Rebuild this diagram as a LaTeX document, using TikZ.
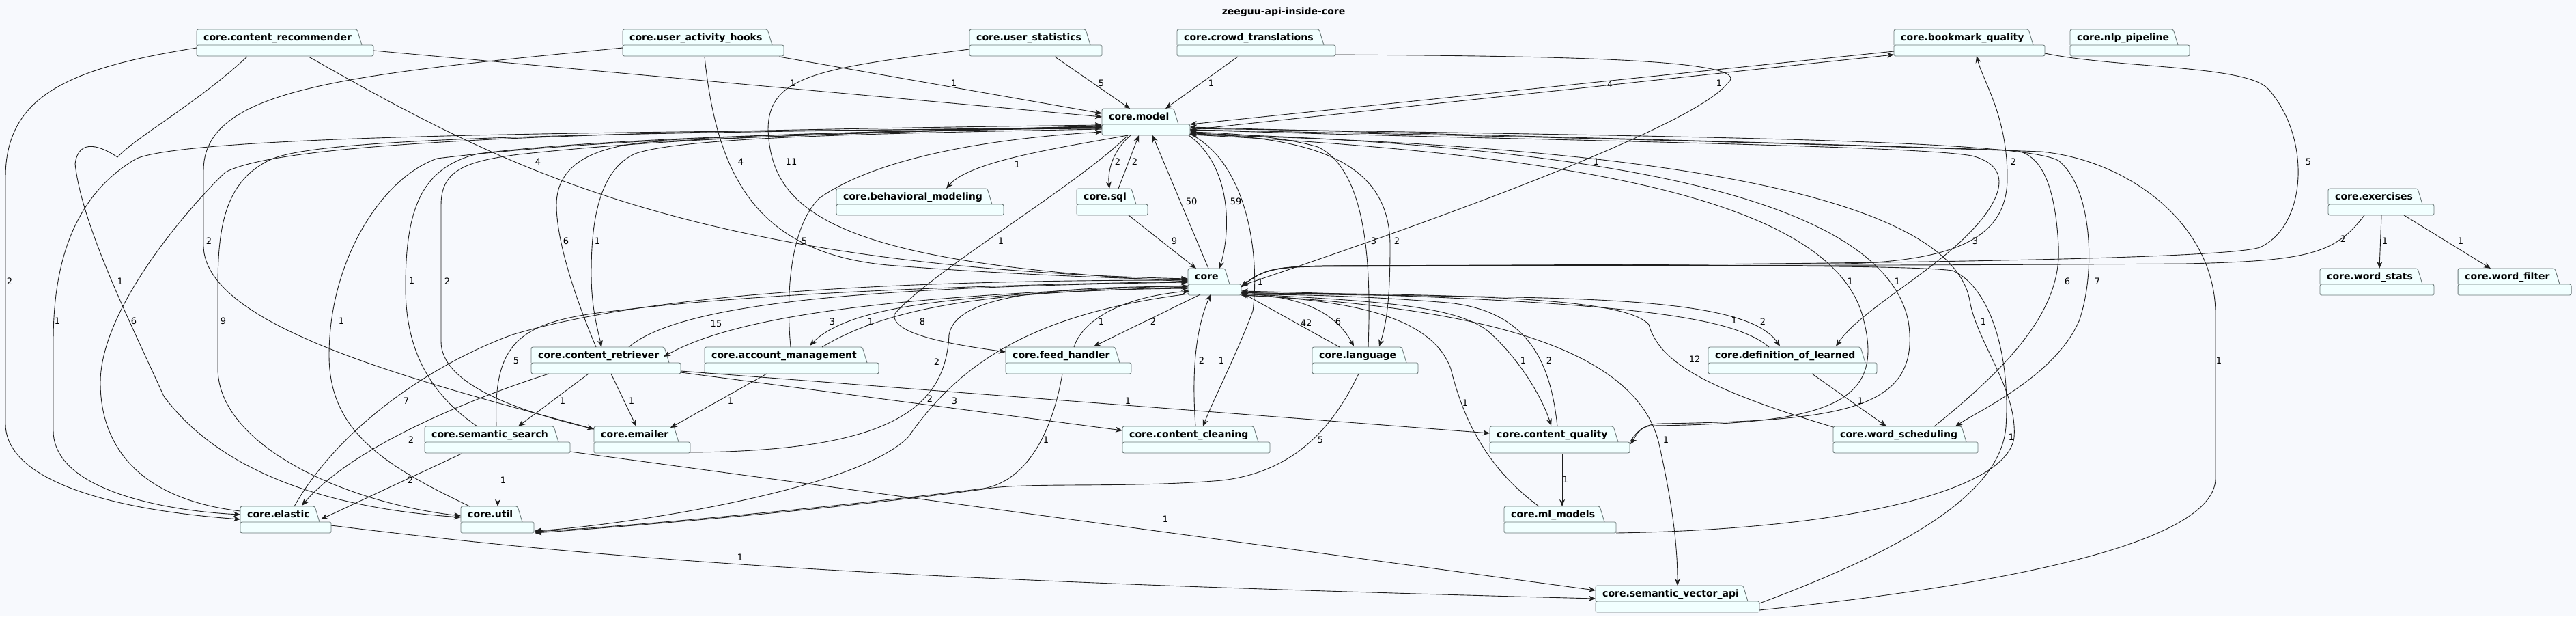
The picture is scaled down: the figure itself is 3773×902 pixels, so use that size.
\documentclass[tikz,border=0pt]{standalone}
\usepackage{fontspec}
\setmainfont{DejaVu Sans}
\usetikzlibrary{arrows.meta}
\definecolor{bgc}{HTML}{F7F9FD}
\definecolor{pkgfill}{HTML}{F1FFFF}
\definecolor{pkgline}{HTML}{6B7878}
\definecolor{edgec}{HTML}{1E1E1E}
\tikzset{
  pkgshape/.style={draw=pkgline, fill=pkgfill, line width=0.9pt, rounded corners=2.5pt},
  pkgtext/.style={font=\bfseries\fontsize{14}{16}\selectfont, inner sep=0pt, anchor=base west},
  pkganchor/.style={inner sep=0pt, outer sep=0pt, draw=none, anchor=north west},
  dep/.style={draw=edgec, line width=0.9pt, -{Stealth[length=10pt,width=8pt,inset=3pt]}},
  lbl/.style={font=\fontsize{13}{15}\selectfont, inner sep=0pt},
}
\newcommand{\pkgbox}[5]{%
  \filldraw[pkgshape] (#2,#4+23) -- (#2,#4) -- (#3-24,#4) -- (#3-17,#4+23);
  \filldraw[pkgshape] (#2,#4+23) rectangle (#3,#4+39);
  \node[pkgtext] (#1-name) at (#2+10,#4+16.5) {#5};
  \node[pkganchor, minimum width=#3pt-#2pt, minimum height=39pt] (#1) at (#2,#4) {};
}
\begin{document}
\begin{tikzpicture}[x=1pt,y=-1pt]
\fill[bgc] (0,0) rectangle (3773,902);
\useasboundingbox (0,0) rectangle (3773,902);
\node[font=\bfseries\fontsize{14}{16}\selectfont] (title) at (1880,18) {zeeguu-api-inside-core};

\pkgbox{cr}{288}{547}{43}{core.content\_recommender}
\pkgbox{uah}{912}{1148}{43}{core.user\_activity\_hooks}
\pkgbox{us}{1420}{1614}{43}{core.user\_statistics}
\pkgbox{ct}{1724}{1956}{43}{core.crowd\_translations}
\pkgbox{bq}{2774}{2995}{43}{core.bookmark\_quality}
\pkgbox{nlp}{3032}{3207}{43}{core.nlp\_pipeline}
\pkgbox{model}{1614}{1743}{159}{core.model}
\pkgbox{bm}{1225}{1470}{276}{core.behavioral\_modeling}
\pkgbox{sql}{1577}{1681}{276}{core.sql}
\pkgbox{ex}{3410}{3565}{276}{core.exercises}
\pkgbox{core}{1740}{1818}{393}{core}
\pkgbox{ws}{3398}{3565}{393}{core.word\_stats}
\pkgbox{wf}{3600}{3766}{393}{core.word\_filter}
\pkgbox{cre}{778}{997}{508}{core.content\_retriever}
\pkgbox{am}{1032}{1287}{508}{core.account\_management}
\pkgbox{fh}{1473}{1657}{508}{core.feed\_handler}
\pkgbox{lang}{1922}{2077}{508}{core.language}
\pkgbox{dol}{2502}{2749}{508}{core.definition\_of\_learned}
\pkgbox{ss}{622}{835}{624}{core.semantic\_search}
\pkgbox{em}{870}{1011}{624}{core.emailer}
\pkgbox{cc}{1644}{1860}{624}{core.content\_cleaning}
\pkgbox{cq}{2182}{2387}{624}{core.content\_quality}
\pkgbox{wsch}{2685}{2897}{624}{core.word\_scheduling}
\pkgbox{el}{352}{485}{741}{core.elastic}
\pkgbox{ut}{675}{782}{741}{core.util}
\pkgbox{ml}{2203}{2367}{741}{core.ml\_models}
\pkgbox{sva}{2337}{2577}{857}{core.semantic\_vector\_api}

% ---- edges ----
\draw[dep] ([shift={(547-288,74-43)}]cr.north west) -- ([shift={(0,171-159)}]model.north west);
\node[lbl] (l1) at (1161,122) {1};
\draw[dep] ([shift={(1141-912,83-43)}]uah.north west) -- ([shift={(0,166-159)}]model.north west);
\node[lbl] (l2) at (1397,122) {1};
\draw[dep] ([shift={(1545-1420,83-43)}]us.north west) -- ([shift={(1655-1614,0)}]model.north west);
\node[lbl] (l3) at (1613,122) {5};
\draw[dep] ([shift={(1813-1724,83-43)}]ct.north west) -- ([shift={(1707-1614,0)}]model.north west);
\node[lbl] (l4) at (1774,122) {1};
\draw[dep] ([shift={(0,75-43)}]bq.north west) -- ([shift={(1743-1614,182-159)}]model.north west);
\node[lbl] (l5) at (2358,124) {4};
\draw[dep] ([shift={(1743-1614,190-159)}]model.north west) -- ([shift={(0,80-43)}]bq.north west);
\node[lbl] (l6) at (2518,122) {1};

\draw[dep] ([shift={(0,72-43)}]us.north west) .. controls (1200,100) and (1125,110) .. (1125,190) .. controls (1130,310) and (1220,385) .. ([shift={(0,412-393)}]core.north west);
\node[lbl] (l7) at (1159,237) {11};
\draw[dep] ([shift={(452-288,83-43)}]cr.north west) .. controls (730,240) and (1000,390) .. ([shift={(0,408-393)}]core.north west);
\node[lbl] (l8) at (788,237) {4};
\draw[dep] ([shift={(1032-912,83-43)}]uah.north west) .. controls (1050,260) and (1110,370) .. (1300,388) .. controls (1450,400) and (1600,406) .. ([shift={(0,410-393)}]core.north west);
\node[lbl] (l9) at (1085,237) {4};
\draw[dep] ([shift={(0,70-43)}]uah.north west) .. controls (500,110) and (298,130) .. (298,250) -- (298,360) .. controls (300,480) and (620,560) .. ([shift={(0,628-624)}]em.north west);
\node[lbl] (l10) at (306,353) {2};
\draw[dep] ([shift={(0,70-43)}]cr.north west) .. controls (100,100) and (8,140) .. (8,260) -- (8,620) .. controls (8,700) and (150,745) .. ([shift={(0,760-741)}]el.north west);
\node[lbl] (l11) at (14,412) {2};
\draw[dep] ([shift={(362-288,83-43)}]cr.north west) .. controls (290,150) and (200,200) .. (172,230) .. controls (150,215) and (115,200) .. (110,240) .. controls (120,330) and (190,470) .. (240,580) .. controls (330,700) and (500,745) .. ([shift={(0,757-741)}]ut.north west);
\node[lbl] (l12) at (176,412) {1};
\draw[dep] ([shift={(0,188-159)}]model.north west) .. controls (1000,192) and (290,195) .. (200,232) .. controls (100,290) and (78,400) .. (78,500) -- (78,630) .. controls (78,720) and (250,748) .. ([shift={(0,753-741)}]el.north west);
\node[lbl] (l13) at (84,470) {1};
\draw[dep] ([shift={(0,748-741)}]el.north west) .. controls (200,730) and (147,650) .. (147,560) .. controls (147,450) and (280,300) .. (330,252) .. controls (420,205) and (900,192) .. ([shift={(0,183-159)}]model.north west);
\node[lbl] (l14) at (196,470) {6};
\draw[dep] ([shift={(0,186-159)}]model.north west) .. controls (900,195) and (480,200) .. (400,232) .. controls (330,262) and (319,330) .. (319,420) -- (319,540) .. controls (320,650) and (500,735) .. ([shift={(0,755-741)}]ut.north west);
\node[lbl] (l15) at (327,470) {9};
\draw[dep] ([shift={(688-675,0)}]ut.north west) .. controls (560,680) and (482,630) .. (482,520) .. controls (482,380) and (560,260) .. (640,232) .. controls (900,200) and (1300,192) .. ([shift={(0,185-159)}]model.north west);
\node[lbl] (l16) at (500,470) {1};
\draw[dep] ([shift={(699-622,0)}]ss.north west) .. controls (620,570) and (594,500) .. (594,420) .. controls (594,300) and (620,245) .. (700,225) .. controls (900,200) and (1300,192) .. ([shift={(0,186-159)}]model.north west);
\node[lbl] (l17) at (603,411) {1};
\draw[dep] ([shift={(0,628-624)}]em.north west) .. controls (750,600) and (646,560) .. (646,500) -- (646,300) .. controls (646,250) and (680,236) .. (760,226) .. controls (1000,200) and (1300,192) .. ([shift={(0,187-159)}]model.north west);
\node[lbl] (l18) at (655,412) {2};
\draw[dep] ([shift={(873-778,0)}]cre.north west) .. controls (840,430) and (815,350) .. (815,300) .. controls (815,240) and (870,215) .. (950,208) .. controls (1200,195) and (1450,190) .. ([shift={(0,184-159)}]model.north west);
\node[lbl] (l19) at (829,353) {6};
\draw[dep] ([shift={(0,189-159)}]model.north west) .. controls (1300,195) and (1000,200) .. (930,225) .. controls (875,250) and (866,330) .. (866,400) .. controls (866,450) and (875,480) .. ([shift={(881-778,0)}]cre.north west);
\node[lbl] (l20) at (875,353) {1};
\draw[dep] ([shift={(1158-1032,0)}]am.north west) .. controls (1150,420) and (1160,330) .. (1200,290) .. controls (1300,220) and (1500,200) .. ([shift={(0,193-159)}]model.north west);
\node[lbl] (l21) at (1178,353) {5};

\draw[dep] ([shift={(1652-1614,198-159)}]model.north west) .. controls (1560,215) and (1420,235) .. ([shift={(1386-1225,0)}]bm.north west);
\node[lbl] (l22) at (1490,241) {1};
\draw[dep] ([shift={(1656-1614,198-159)}]model.north west) .. controls (1630,220) and (1622,250) .. ([shift={(1625-1577,0)}]sql.north west);
\node[lbl] (l23) at (1637,237) {2};
\draw[dep] ([shift={(1638-1577,0)}]sql.north west) -- ([shift={(1668-1614,198-159)}]model.north west);
\node[lbl] (l24) at (1662,237) {2};
\draw[dep] ([shift={(1653-1577,315-276)}]sql.north west) -- ([shift={(1752-1740,0)}]core.north west);
\node[lbl] (l25) at (1720,353) {9};
\draw[dep] ([shift={(1770-1740,0)}]core.north west) -- ([shift={(1688-1614,198-159)}]model.north west);
\node[lbl] (l26) at (1745,295) {50};
\draw[dep] ([shift={(1741-1614,198-159)}]model.north west) .. controls (1800,240) and (1805,330) .. ([shift={(1786-1740,0)}]core.north west);
\node[lbl] (l27) at (1810,295) {59};
\draw[dep] ([shift={(1743-1614,196-159)}]model.north west) .. controls (1830,240) and (1845,380) .. (1835,455) .. controls (1815,510) and (1775,590) .. ([shift={(1762-1644,0)}]cc.north west);
\node[lbl] (l28) at (1789,528) {1};
\draw[dep] ([shift={(1751-1644,0)}]cc.north west) .. controls (1745,540) and (1752,480) .. ([shift={(1773-1740,431-393)}]core.north west);
\node[lbl] (l29) at (1760,528) {2};
\draw[dep] ([shift={(1652-1614,198-159)}]model.north west) .. controls (1580,270) and (1360,400) .. (1310,460) .. controls (1305,490) and (1400,505) .. ([shift={(0,515-508)}]fh.north west);
\node[lbl] (l30) at (1466,353) {1};
\draw[dep] ([shift={(1758-1740,431-393)}]core.north west) -- ([shift={(1602-1473,507-508)}]fh.north west);
\node[lbl] (l31) at (1689,471) {2};
\draw[dep] ([shift={(1573-1473,0)}]fh.north west) .. controls (1585,470) and (1640,435) .. ([shift={(1742-1740,426-393)}]core.north west);
\node[lbl] (l32) at (1613,471) {1};
\draw[dep] ([shift={(1556-1473,547-508)}]fh.north west) .. controls (1540,640) and (1500,705) .. (1440,715) .. controls (1200,745) and (900,772) .. ([shift={(783-675,778-741)}]ut.north west);
\node[lbl] (l33) at (1532,644) {1};
\draw[dep] ([shift={(1990-1922,547-508)}]lang.north west) .. controls (1955,620) and (1900,690) .. (1790,703) .. controls (1650,715) and (1500,705) .. (1440,716) .. controls (1200,748) and (900,772) .. ([shift={(783-675,780-741)}]ut.north west);
\node[lbl] (l34) at (1934,644) {5};
\draw[dep] ([shift={(1742-1740,430-393)}]core.north west) .. controls (1500,460) and (1400,540) .. (1330,640) .. controls (1250,720) and (900,770) .. ([shift={(783-675,777-741)}]ut.north west);
\node[lbl] (l35) at (1398,587) {3};
\draw[dep] ([shift={(1011-870,662-624)}]em.north west) .. controls (1300,660) and (1385,600) .. (1390,490) .. controls (1400,430) and (1550,420) .. ([shift={(0,419-393)}]core.north west);
\node[lbl] (l36) at (1372,530) {2};
\draw[dep] ([shift={(921-778,0)}]cre.north west) .. controls (1000,440) and (1300,420) .. ([shift={(0,413-393)}]core.north west);
\node[lbl] (l37) at (1049,474) {15};
\draw[dep] ([shift={(0,418-393)}]core.north west) .. controls (1400,430) and (1100,450) .. ([shift={(972-778,522-508)}]cre.north west);
\node[lbl] (l38) at (1219,471) {3};
\draw[dep] ([shift={(0,420-393)}]core.north west) .. controls (1450,430) and (1250,440) .. ([shift={(1186-1032,506-508)}]am.north west);
\node[lbl] (l39) at (1275,471) {1};
\draw[dep] ([shift={(1204-1032,0)}]am.north west) .. controls (1300,450) and (1450,425) .. ([shift={(0,422-393)}]core.north west);
\node[lbl] (l40) at (1351,471) {8};
\draw[dep] ([shift={(727-622,0)}]ss.north west) .. controls (722,500) and (760,470) .. (900,455) .. controls (1100,430) and (1400,418) .. ([shift={(0,412-393)}]core.north west);
\node[lbl] (l41) at (756,528) {5};
\draw[dep] ([shift={(431-352,0)}]el.north west) .. controls (500,620) and (640,530) .. (750,490) .. controls (950,430) and (1300,410) .. ([shift={(0,410-393)}]core.north west);
\node[lbl] (l42) at (595,587) {7};
\draw[dep] ([shift={(804-778,547-508)}]cre.north west) .. controls (700,580) and (520,650) .. ([shift={(442-352,740-741)}]el.north west);
\node[lbl] (l43) at (602,644) {2};
\draw[dep] ([shift={(862-778,547-508)}]cre.north west) -- ([shift={(759-622,0)}]ss.north west);
\node[lbl] (l44) at (824,587) {1};
\draw[dep] ([shift={(895-778,547-508)}]cre.north west) -- ([shift={(932-870,0)}]em.north west);
\node[lbl] (l45) at (925,587) {1};
\draw[dep] ([shift={(1123-1032,547-508)}]am.north west) -- ([shift={(982-870,626-624)}]em.north west);
\node[lbl] (l46) at (1070,587) {1};
\draw[dep] ([shift={(997-778,545-508)}]cre.north west) -- ([shift={(0,630-624)}]cc.north west);
\node[lbl] (l47) at (1362,584) {2};
\draw[dep] ([shift={(997-778,543-508)}]cre.north west) -- ([shift={(0,634-624)}]cq.north west);
\node[lbl] (l48) at (1652,587) {1};
\draw[dep] ([shift={(729-622,664-624)}]ss.north west) -- ([shift={(729-675,0)}]ut.north west);
\node[lbl] (l49) at (737,703) {1};
\draw[dep] ([shift={(676-622,664-624)}]ss.north west) -- ([shift={(470-352,760-741)}]el.north west);
\node[lbl] (l50) at (601,703) {2};
\draw[dep] ([shift={(835-622,661-624)}]ss.north west) -- ([shift={(0,864-857)}]sva.north west);
\node[lbl] (l51) at (1707,760) {1};
\draw[dep] ([shift={(485-352,769-741)}]el.north west) .. controls (900,820) and (1300,850) .. ([shift={(0,876-857)}]sva.north west);
\node[lbl] (l52) at (1084,816) {1};

\draw[dep] ([shift={(1962-1922,0)}]lang.north west) -- ([shift={(1818-1740,428-393)}]core.north west);
\node[lbl] (l53) at (1913,473) {42};
\draw[dep] ([shift={(1818-1740,430-393)}]core.north west) .. controls (1880,432) and (1950,445) .. ([shift={(1983-1922,507-508)}]lang.north west);
\node[lbl] (l54) at (1960,471) {6};
\draw[dep] ([shift={(1743-1614,196-159)}]model.north west) .. controls (1950,200) and (2036,250) .. (2036,360) .. controls (2036,430) and (2032,470) .. ([shift={(2020-1922,507-508)}]lang.north west);
\node[lbl] (l55) at (2046,353) {2};
\draw[dep] ([shift={(2004-1922,0)}]lang.north west) .. controls (2008,400) and (2005,250) .. (1930,215) .. controls (1880,200) and (1800,195) .. ([shift={(1743-1614,193-159)}]model.north west);
\node[lbl] (l56) at (2012,353) {3};
\draw[dep] ([shift={(1818-1740,428-393)}]core.north west) .. controls (2200,440) and (2550,420) .. ([shift={(2607-2502,507-508)}]dol.north west);
\node[lbl] (l57) at (2582,471) {2};
\draw[dep] ([shift={(2591-2502,0)}]dol.north west) .. controls (2540,465) and (2400,440) .. ([shift={(1818-1740,426-393)}]core.north west);
\node[lbl] (l58) at (2540,469) {1};
\draw[dep] ([shift={(1743-1614,190-159)}]model.north west) .. controls (2200,205) and (2800,212) .. (2888,228) .. controls (2955,245) and (2930,300) .. (2870,355) .. controls (2810,410) and (2720,460) .. ([shift={(2689-2502,507-508)}]dol.north west);
\node[lbl] (l59) at (2893,353) {3};
\draw[dep] ([shift={(1818-1740,420-393)}]core.north west) .. controls (1850,392) and (1870,390) .. (1950,389) -- (2700,386) .. controls (2880,382) and (2940,340) .. (2940,260) .. controls (2940,170) and (2905,120) .. ([shift={(2895-2774,82-43)}]bq.north west);
\node[lbl] (l60) at (2949,237) {2};
\draw[dep] ([shift={(2995-2774,78-43)}]bq.north west) .. controls (3100,100) and (3290,95) .. (3322,130) .. controls (3385,200) and (3380,330) .. (3310,362) .. controls (3250,383) and (2500,388) .. (1950,390) .. controls (1870,390) and (1850,394) .. ([shift={(1818-1740,420-393)}]core.north west);
\node[lbl] (l61) at (3381,237) {5};
\draw[dep] ([shift={(3463-3410,315-276)}]ex.north west) .. controls (3420,372) and (3380,382) .. (3200,386) .. controls (2600,390) and (2000,388) .. (1950,389) .. controls (1870,390) and (1850,394) .. ([shift={(1818-1740,420-393)}]core.north west);
\node[lbl] (l62) at (3432,350) {2};
\draw[dep] ([shift={(3488-3410,315-276)}]ex.north west) -- ([shift={(3485-3398,0)}]ws.north west);
\node[lbl] (l63) at (3493,353) {1};
\draw[dep] ([shift={(3521-3410,315-276)}]ex.north west) -- ([shift={(3648-3600,0)}]wf.north west);
\node[lbl] (l64) at (3604,353) {1};
\draw[dep] ([shift={(1956-1724,80-43)}]ct.north west) .. controls (2250,82) and (2580,85) .. (2530,122) .. controls (2490,175) and (2200,290) .. ([shift={(1818-1740,418-393)}]core.north west);
\node[lbl] (l65) at (2338,237) {1};
\node[lbl] (l65b) at (1846,413) {1};
\draw[dep] ([shift={(1743-1614,197-159)}]model.north west) .. controls (2300,225) and (2690,290) .. (2730,470) .. controls (2760,590) and (2680,620) .. (2420,623) .. controls (2400,624) and (2395,640) .. ([shift={(2388-2182,650-624)}]cq.north west);
\node[lbl] (l66) at (2710,412) {1};
\draw[dep] ([shift={(2388-2182,646-624)}]cq.north west) .. controls (2395,635) and (2405,621) .. (2430,620) .. controls (2700,616) and (2815,600) .. (2795,470) .. controls (2760,300) and (2400,215) .. ([shift={(1743-1614,195-159)}]model.north west);
\node[lbl] (l67) at (2779,412) {1};
\draw[dep] ([shift={(1743-1614,188-159)}]model.north west) .. controls (2500,200) and (2960,205) .. (3015,235) .. controls (3065,275) and (3070,400) .. (3045,470) .. controls (3010,550) and (2900,600) .. ([shift={(2864-2685,0)}]wsch.north west);
\node[lbl] (l68) at (3072,412) {7};
\draw[dep] ([shift={(2833-2685,0)}]wsch.north west) .. controls (2950,530) and (3020,450) .. (3015,360) .. controls (3010,270) and (2990,225) .. (2950,220) .. controls (2500,205) and (2000,194) .. ([shift={(1743-1614,186-159)}]model.north west);
\node[lbl] (l69) at (3028,412) {6};
\draw[dep] ([shift={(2654-2502,547-508)}]dol.north west) -- ([shift={(2763-2685,0)}]wsch.north west);
\node[lbl] (l70) at (2725,587) {1};
\draw[dep] ([shift={(0,625-624)}]wsch.north west) .. controls (2500,570) and (2430,530) .. (2415,475) .. controls (2385,440) and (2200,430) .. ([shift={(1818-1740,429-393)}]core.north west);
\node[lbl] (l71) at (2482,526) {12};
\draw[dep] ([shift={(1818-1740,430-393)}]core.north west) .. controls (2000,440) and (2130,445) .. (2180,485) .. controls (2225,525) and (2258,580) .. ([shift={(2272-2182,623-624)}]cq.north west);
\node[lbl] (l72) at (2231,528) {1};
\draw[dep] ([shift={(2281-2182,0)}]cq.north west) .. controls (2272,540) and (2245,455) .. (2120,443) .. controls (2000,433) and (1900,431) .. ([shift={(1818-1740,431-393)}]core.north west);
\node[lbl] (l73) at (2269,528) {2};
\draw[dep] ([shift={(2288-2182,664-624)}]cq.north west) -- ([shift={(2288-2203,0)}]ml.north west);
\node[lbl] (l74) at (2293,702) {1};
\draw[dep] ([shift={(2254-2203,0)}]ml.north west) .. controls (2170,680) and (2140,600) .. (2125,540) .. controls (2100,470) and (2000,440) .. ([shift={(1818-1740,432-393)}]core.north west);
\node[lbl] (l75) at (2146,590) {1};
\draw[dep] ([shift={(1818-1740,432-393)}]core.north west) .. controls (2200,450) and (2400,520) .. (2430,650) .. controls (2450,740) and (2457,800) .. ([shift={(2457-2337,0)}]sva.north west);
\node[lbl] (l76) at (2440,644) {1};
\draw[dep] ([shift={(2367-2203,780-741)}]ml.north west) .. controls (2700,775) and (2940,720) .. (2950,640) .. controls (2955,570) and (2895,500) .. (2885,440) .. controls (2860,300) and (2500,215) .. ([shift={(1743-1614,197-159)}]model.north west);
\node[lbl] (l77) at (2905,471) {1};
\draw[dep] ([shift={(2577-2337,883-857)}]sva.north west) .. controls (2800,800) and (2930,720) .. (2938,625) .. controls (2945,520) and (2915,420) .. (2860,396) .. controls (2800,388) and (2500,388) .. (1950,389) .. controls (1870,390) and (1850,394) .. ([shift={(1818-1740,420-393)}]core.north west);
\node[lbl] (l78) at (2946,640) {1};
\draw[dep] ([shift={(2577-2337,893-857)}]sva.north west) .. controls (2900,860) and (3245,800) .. (3245,700) -- (3245,460) .. controls (3245,330) and (3120,235) .. (2990,222) .. controls (2500,205) and (2000,195) .. ([shift={(1743-1614,190-159)}]model.north west);
\node[lbl] (l79) at (3250,528) {1};
\end{tikzpicture}
\end{document}
